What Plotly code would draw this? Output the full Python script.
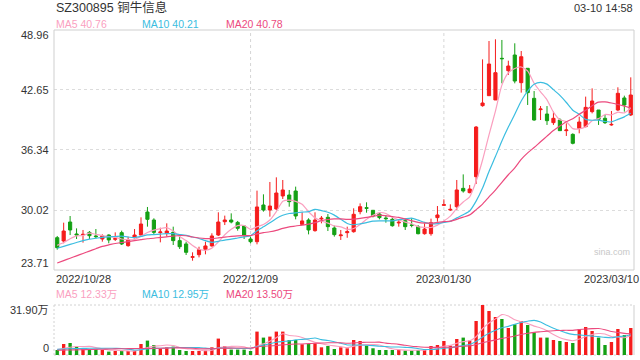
import pandas as pd
import plotly.graph_objects as go

# ---------------- data ----------------
holidays = ["2023-01-02", "2023-01-23", "2023-01-24", "2023-01-25", "2023-01-26", "2023-01-27"]
dates = [d.strftime("%Y-%m-%d") for d in pd.bdate_range("2022-10-28", "2023-03-10")
         if d.strftime("%Y-%m-%d") not in holidays]

opens = [27.11, 26.76, 28.76, 27.50, 27.43, 27.67, 27.29, 26.97, 27.39, 26.94,
         27.64, 26.27, 27.11, 27.39, 29.81, 28.97, 27.64, 27.57, 27.67, 26.80,
         26.45, 25.04, 25.32, 25.88, 26.24, 27.39, 28.79, 28.97, 28.72, 28.34,
         26.97, 26.69, 30.55, 30.02, 30.13, 31.50, 31.60, 32.02, 28.51, 28.97,
         27.85, 29.08, 29.25, 28.13, 27.32, 27.64, 27.74, 29.85, 30.27, 29.99,
         29.60, 29.18, 29.04, 28.66, 28.90, 28.44, 28.27, 27.53, 27.53, 29.22,
         30.51, 30.02, 30.37, 32.30, 31.85, 33.53, 41.00, 42.05, 41.60, 45.98,
         44.68, 46.33, 43.42, 44.93, 41.77, 40.58, 40.12, 39.21, 39.49, 38.37,
         37.98, 38.61, 38.79, 40.37, 40.54, 39.67, 38.97, 40.54, 41.81, 40.02]
closes = [26.06, 27.81, 27.92, 27.39, 27.46, 27.32, 27.22, 27.29, 26.87, 27.01,
          26.45, 26.87, 27.39, 28.55, 29.04, 27.67, 27.71, 27.81, 26.80, 26.16,
          25.57, 25.11, 25.85, 26.24, 27.29, 28.76, 28.97, 28.76, 28.09, 27.39,
          26.69, 30.34, 30.02, 30.44, 31.81, 32.13, 30.90, 29.39, 28.87, 27.92,
          28.97, 29.15, 28.27, 27.43, 27.39, 27.74, 29.57, 30.37, 30.20, 29.39,
          29.22, 29.11, 28.37, 28.73, 28.27, 28.41, 27.53, 28.02, 28.69, 29.50,
          30.58, 30.09, 32.13, 32.02, 32.23, 38.75, 41.28, 45.38, 44.47, 45.94,
          45.17, 43.59, 46.15, 42.37, 39.49, 40.65, 39.42, 39.67, 38.37, 38.44,
          37.04, 39.28, 40.82, 41.49, 39.56, 39.21, 39.03, 42.30, 41.07, 42.12]
highs = [27.29, 28.69, 29.39, 28.09, 27.92, 27.81, 28.02, 27.46, 27.46, 27.67,
         27.85, 27.22, 28.02, 29.25, 30.34, 29.15, 28.16, 28.62, 28.27, 27.29,
         26.69, 25.57, 26.16, 26.69, 27.57, 29.78, 29.43, 29.67, 28.87, 28.44,
         27.22, 32.06, 31.67, 32.97, 33.46, 33.18, 32.13, 32.48, 29.78, 29.15,
         29.78, 29.39, 29.60, 28.37, 27.92, 28.27, 30.20, 30.72, 30.83, 30.02,
         29.74, 29.50, 29.22, 28.97, 29.15, 29.15, 28.44, 28.62, 29.11, 30.44,
         31.14, 30.62, 33.18, 33.77, 32.65, 38.86, 45.87, 47.80, 47.98, 47.91,
         45.73, 47.56, 46.75, 44.93, 42.54, 40.96, 40.96, 40.37, 39.67, 39.14,
         38.09, 39.84, 41.95, 42.82, 40.54, 40.02, 40.44, 42.93, 42.05, 43.98]
lows = [25.85, 26.52, 27.39, 26.97, 26.59, 26.97, 27.04, 26.69, 26.52, 26.76,
        26.34, 26.16, 27.04, 27.36, 28.27, 27.46, 26.62, 27.22, 26.34, 25.92,
        25.29, 24.69, 25.04, 25.36, 26.17, 27.29, 28.44, 28.62, 27.85, 26.97,
        26.52, 26.41, 29.85, 29.32, 30.02, 31.18, 30.37, 29.04, 28.44, 27.46,
        27.74, 28.62, 27.81, 27.22, 26.87, 27.10, 27.64, 29.57, 29.74, 29.25,
        29.04, 28.69, 28.27, 28.27, 27.92, 28.20, 27.46, 27.43, 27.32, 28.79,
        30.44, 29.92, 30.02, 31.85, 31.78, 32.76, 40.89, 42.02, 41.60, 43.35,
        44.23, 43.35, 42.37, 41.07, 39.42, 39.49, 38.97, 38.97, 38.37, 37.81,
        36.93, 38.09, 38.72, 40.19, 38.97, 39.07, 38.89, 40.44, 40.37, 39.91]
# volume in 万 (10k shares)
volumes = [3.19, 7.02, 7.66, 5.36, 3.83, 3.64, 3.64, 3.19, 2.17, 2.55,
           2.55, 2.55, 2.81, 7.02, 9.19, 6.38, 4.28, 4.91, 5.36, 3.19,
           2.55, 2.55, 2.55, 2.81, 4.91, 10.47, 5.74, 3.45, 3.45, 3.45,
           2.55, 14.93, 11.10, 11.74, 14.93, 14.93, 9.57, 9.57, 6.83, 7.02,
           7.47, 4.91, 5.74, 3.83, 4.91, 4.28, 9.57, 8.93, 6.00, 4.28,
           3.19, 3.19, 3.19, 3.19, 2.81, 2.81, 3.19, 3.64, 5.74, 6.38,
           8.93, 6.00, 10.21, 11.10, 9.19, 21.70, 31.90, 28.08, 24.25, 22.97,
           17.23, 19.59, 21.70, 19.14, 14.49, 11.10, 11.10, 9.57, 8.93, 8.30,
           7.66, 16.40, 17.87, 15.32, 11.10, 6.38, 8.30, 16.59, 12.76, 17.23]

# moving-average values before the window is full (they use earlier history)
ma5_head = [26.3, 26.6, 27.0, 27.3]
ma10_head = [26.0, 26.2, 26.4, 26.6, 26.8, 26.95, 27.05, 27.15, 27.2]
ma20_head = [24.45, 24.7, 24.95, 25.2, 25.45, 25.7, 25.95, 26.2, 26.35, 26.5,
             26.6, 26.7, 26.8, 26.9, 27.0, 27.05, 27.15, 27.2, 27.28]
vma5_head = [3.5, 4.2, 4.9, 5.4]
vma10_head = [3.6, 3.8, 4.0, 4.1, 4.2, 4.3, 4.3, 4.3, 4.3]
vma20_head = [3.0, 3.1, 3.2, 3.3, 3.4, 3.5, 3.6, 3.7, 3.8, 3.9,
              4.0, 4.05, 4.1, 4.15, 4.2, 4.3, 4.35, 4.4, 4.5]

y_ticks = [23.71, 30.02, 36.34, 42.65, 48.96]
x_labels = {"2022/10/28": 0, "2022/12/09": 30, "2023/01/30": 60, "2023/03/10": 89}

# ---------------- derived ----------------
def ma(values, n, head):
    s = pd.Series(values).rolling(n).mean().tolist()
    return head + s[len(head):]

ma5 = ma(closes, 5, ma5_head)
ma10 = ma(closes, 10, ma10_head)
ma20 = ma(closes, 20, ma20_head)
vma5 = ma(volumes, 5, vma5_head)
vma10 = ma(volumes, 10, vma10_head)
vma20 = ma(volumes, 20, vma20_head)

RED = "#f51c1c"
GREEN = "#14a014"
C5 = "#fa9fbf"
C10 = "#3bbde0"
C20 = "#ec4a7e"
FONT = "Liberation Sans, Arial, Noto Sans CJK SC, sans-serif"

vol_colors = [RED if c >= o else GREEN for o, c in zip(opens, closes)]

W, H = 640, 360
L, R, T, B = 54, 6, 30, 5
PH = H - T - B
PW = W - L - R
def py(ypx):
    return (H - B - ypx) / PH
def px(xpx):
    return (xpx - L) / PW

main_bottom = py(270)
vol_top = py(305)

fig = go.Figure()
fig.add_trace(go.Candlestick(
    x=dates, open=opens, high=highs, low=lows, close=closes,
    increasing=dict(line=dict(color=RED, width=1), fillcolor=RED),
    decreasing=dict(line=dict(color=GREEN, width=1), fillcolor=GREEN),
    whiskerwidth=0, xaxis="x", yaxis="y", hoverinfo="skip", showlegend=False))
for vals, col in [(ma5, C5), (ma10, C10), (ma20, C20)]:
    fig.add_trace(go.Scatter(x=dates, y=vals, mode="lines",
                             line=dict(color=col, width=1.2, shape="spline", smoothing=0.6),
                             xaxis="x", yaxis="y", showlegend=False, hoverinfo="skip"))
fig.add_trace(go.Bar(x=dates, y=volumes, marker=dict(color=vol_colors, line=dict(width=0)),
                     xaxis="x2", yaxis="y2", showlegend=False, hoverinfo="skip"))
for vals, col in [(vma5, C5), (vma10, C10), (vma20, C20)]:
    fig.add_trace(go.Scatter(x=dates, y=vals, mode="lines",
                             line=dict(color=col, width=1.1, shape="spline", smoothing=0.6),
                             xaxis="x2", yaxis="y2", showlegend=False, hoverinfo="skip"))

fig.update_layout(
    width=W, height=H, autosize=False,
    margin=dict(l=L, r=R, t=T, b=B),
    paper_bgcolor="white", plot_bgcolor="white",
    font=dict(family=FONT, size=11, color="#333"),
    bargap=0.48,
    xaxis=dict(domain=[0, 1], type="category", range=[-0.5, len(dates) - 0.5],
               showticklabels=False, showgrid=False, zeroline=False, showline=False,
               rangeslider=dict(visible=False), anchor="y", fixedrange=True),
    xaxis2=dict(domain=[0, 1], type="category", range=[-0.5, len(dates) - 0.5],
                showticklabels=False, showgrid=False, zeroline=False, showline=False,
                anchor="y2", matches="x"),
    yaxis=dict(domain=[main_bottom, 1], range=[y_ticks[0], y_ticks[-1]],
               tickvals=y_ticks[1:-1], showticklabels=False,
               showgrid=True, gridcolor="#dcdcdc", griddash="3px,3px", gridwidth=1,
               zeroline=False, showline=False),
    yaxis2=dict(domain=[0, vol_top], range=[0, 31.9], showticklabels=False,
                showgrid=False, zeroline=False, showline=False),
)

shapes = []
# main panel border
shapes.append(dict(type="rect", xref="paper", yref="paper", x0=0, x1=1, y0=main_bottom, y1=1,
                   line=dict(color="#cfcfcf", width=1), layer="above"))
# vertical grid lines
for idx in (30, 60):
    shapes.append(dict(type="line", xref="x", yref="paper", x0=dates[idx], x1=dates[idx],
                       y0=main_bottom, y1=1, line=dict(color="#d6d6d6", width=1, dash="3px,3px"),
                       layer="below"))
    shapes.append(dict(type="line", xref="x", yref="paper", x0=dates[idx], x1=dates[idx],
                       y0=0, y1=vol_top, line=dict(color="#d6d6d6", width=1, dash="2px,2px"),
                       layer="below"))
# volume panel borders
for yy in (0, vol_top):
    shapes.append(dict(type="line", xref="paper", yref="paper", x0=0, x1=1, y0=yy, y1=yy,
                       line=dict(color="#d2d2d2", width=1, dash="2px,2px"), layer="below"))
shapes.append(dict(type="line", xref="paper", yref="paper", x0=0, x1=0, y0=0, y1=vol_top,
                   line=dict(color="#d2d2d2", width=1, dash="2px,2px")))
shapes.append(dict(type="line", xref="paper", yref="paper", x0=1, x1=1, y0=0, y1=vol_top,
                   line=dict(color="#cfcfcf", width=1)))
fig.update_layout(shapes=shapes)

ann = []
def text(x, y, s, size=11, color="#333", xanchor="left", yanchor="middle", xref="paper", yref="paper",
         xshift=0, yshift=0):
    ann.append(dict(x=x, y=y, text=s, xref=xref, yref=yref, showarrow=False,
                    xanchor=xanchor, yanchor=yanchor, xshift=xshift, yshift=yshift,
                    font=dict(size=size, color=color, family=FONT), borderpad=0))

text(px(55), py(8), "SZ300895 铜牛信息", size=12.5, color="#333")
text(px(634), py(8.5), "03-10 14:58", size=11, color="#333", xanchor="right")
text(px(55), py(24), "MA5 40.76", size=10.5, color=C5)
text(px(140.5), py(24), "MA10 40.21", size=10.5, color=C10)
text(px(225), py(24), "MA20 40.78", size=10.5, color=C20)

# price axis labels
shifts = {0: 7, len(y_ticks) - 1: -4.5}
for i, v in enumerate(y_ticks):
    text(0, v, f"{v:.2f}", size=11, color="#333", xanchor="right", yref="y", xshift=-4,
         yshift=shifts.get(i, 0))

# date labels
for lab, idx in x_labels.items():
    if idx == 0:
        text(px(55), py(279), lab, xanchor="left")
    elif idx == len(dates) - 1:
        text(px(640), py(279), lab, xanchor="right")
    else:
        text(dates[idx], py(279), lab, xanchor="center", xref="x")

text(px(612), py(252), "sina.com", size=9, color="#c8c8c8", xanchor="center")

# volume legend & axis
text(px(55), py(294), "MA5 12.33万", size=10.5, color=C5)
text(px(140.5), py(294), "MA10 12.95万", size=10.5, color=C10)
text(px(225), py(294), "MA20 13.50万", size=10.5, color=C20)
text(0, 31.9, "31.90万", size=11, color="#333", xanchor="right", yref="y2", xshift=-4, yshift=-5)
text(0, 0, "0", size=11, color="#333", xanchor="right", yref="y2", xshift=-4, yshift=7)

fig.update_layout(annotations=ann)
fig.write_html("out.html")
